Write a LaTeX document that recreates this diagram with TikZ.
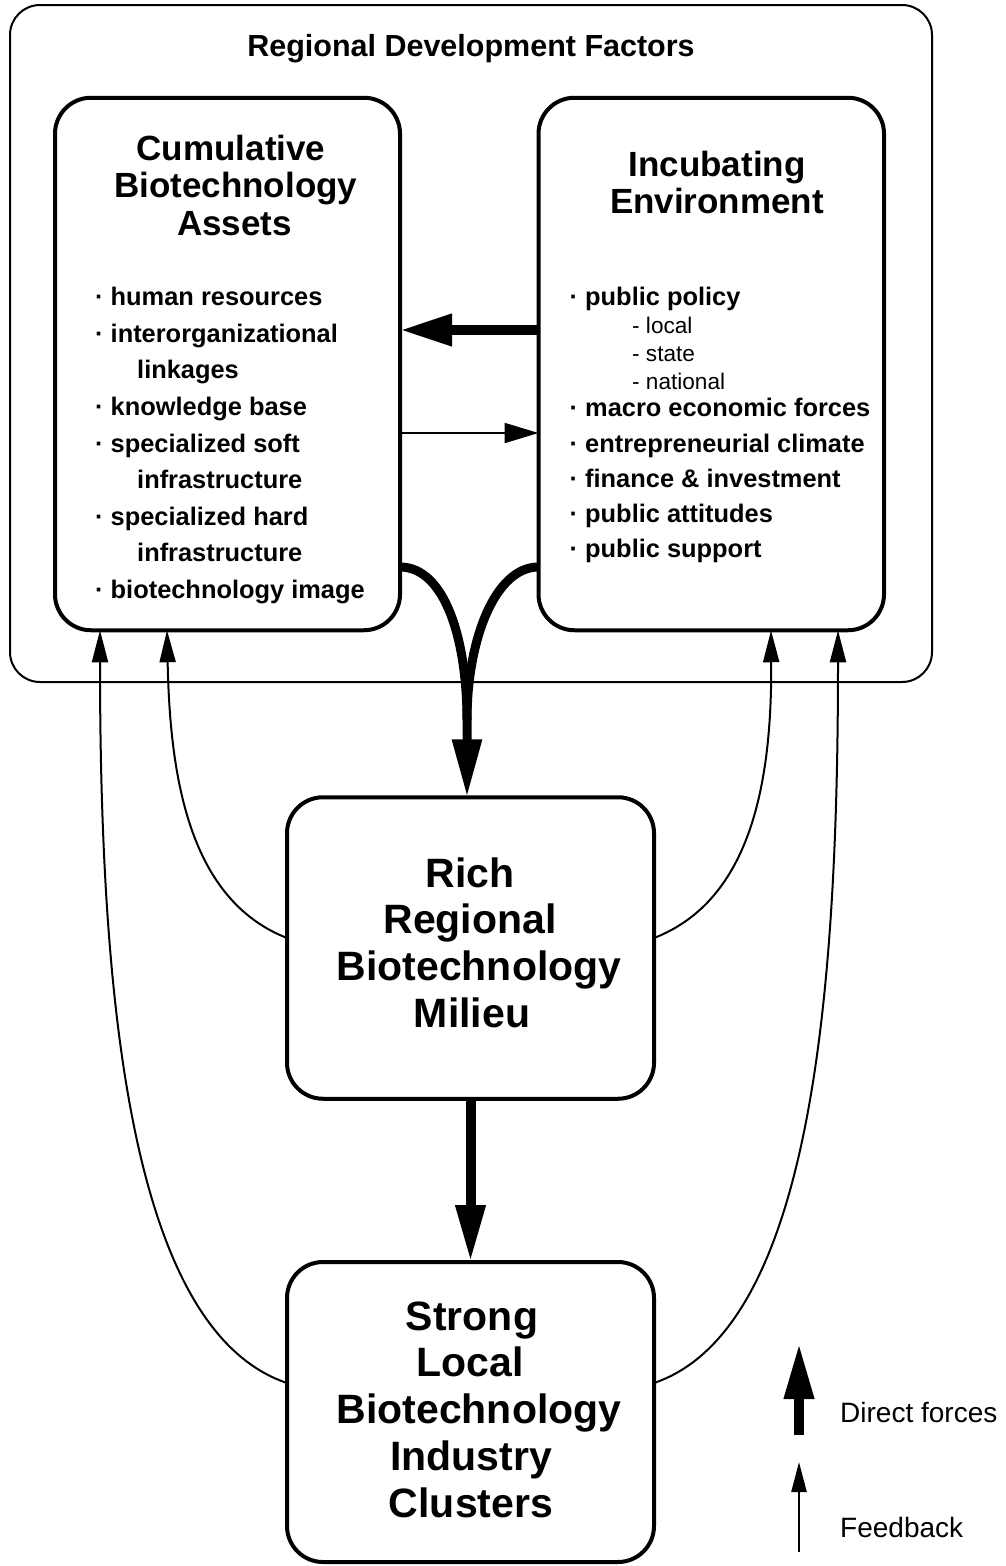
\documentclass[tikz,border=0pt]{standalone}
\usepackage{fontspec}
\setmainfont{Liberation Sans}
\usetikzlibrary{arrows.meta}
\begin{document}
\begin{tikzpicture}[x=1pt,y=-1pt,
  outerbox/.style={draw, line width=2pt, rounded corners=30pt, inner sep=0pt, outer sep=0pt},
  box/.style={draw, line width=4pt, rounded corners=36pt, inner sep=0pt, outer sep=0pt},
  maintitle/.style={font=\fontsize{30.5}{36}\selectfont\bfseries, anchor=base, inner sep=0pt},
  head/.style={font=\fontsize{35}{38}\selectfont\bfseries, anchor=base, inner sep=0pt},
  headw/.style={font=\fontsize{35}{38}\selectfont\bfseries, anchor=base west, inner sep=0pt},
  big/.style={font=\fontsize{41}{47}\selectfont\bfseries, anchor=base, inner sep=0pt},
  item/.style={font=\fontsize{25.4}{36}\selectfont\bfseries, anchor=base west, inner sep=0pt},
  subitem/.style={font=\fontsize{22.6}{28}\selectfont, anchor=base west, inner sep=0pt},
  legendtext/.style={font=\fontsize{28}{32}\selectfont, anchor=base west, inner sep=0pt},
  direct/.style={line width=10pt, -{Triangle[length=52pt,width=30pt]}},
  directcurve/.style={line width=9pt, line cap=butt},
  feedback/.style={line width=2pt, -{Triangle[length=32pt,width=16pt]}}
]
\useasboundingbox (0,0) rectangle (1005,1566);

% boxes
\node[outerbox, minimum width=922pt, minimum height=677pt] (rdf) at (471,343.5) {};
\node[box, minimum width=345pt, minimum height=532.5pt] (cba) at (227.5,364) {};
\node[box, minimum width=345.5pt, minimum height=532.5pt] (ie) at (711.25,364) {};
\node[box, minimum width=367pt, minimum height=301.5pt] (mid) at (470.5,948) {};
\node[box, minimum width=367pt, minimum height=300pt] (bot) at (470.5,1412) {};

% titles
\node[maintitle] (t0) at (471,56) {Regional Development Factors};
\node[head] (c1) at (231,160) {Cumulative};
\node[headw] (c2) at (114,197) {Biotechnology};
\node[head] (c3) at (234.5,235) {Assets};
\node[head] (i1) at (717,176) {Incubating};
\node[head] (i2) at (717,213) {Environment};

% left list
\node[item] (l1) at (95,305) {· human resources};
\node[item] (l2) at (95,342) {· interorganizational};
\node[item] (l3) at (137,378) {linkages};
\node[item] (l4) at (95,415) {· knowledge base};
\node[item] (l5) at (95,452) {· specialized soft};
\node[item] (l6) at (137,488) {infrastructure};
\node[item] (l7) at (95,525) {· specialized hard};
\node[item] (l8) at (137,561) {infrastructure};
\node[item] (l9) at (95,598) {· biotechnology image};

% right list
\node[item] (r1) at (569.5,305) {· public policy};
\node[subitem] (r2) at (632,333) {- local};
\node[subitem] (r3) at (632,361) {- state};
\node[subitem] (r4) at (632,389) {- national};
\node[item] (r5) at (569.5,416) {· macro economic forces};
\node[item] (r6) at (569.5,452) {· entrepreneurial climate};
\node[item] (r7) at (569.5,487) {· finance \& investment};
\node[item] (r8) at (569.5,522) {· public attitudes};
\node[item] (r9) at (569.5,557) {· public support};

% middle box text
\node[big] (m1) at (470,887) {Rich};
\node[big] (m2) at (470,933) {Regional};
\node[big] (m3) at (479,980) {Biotechnology};
\node[big] (m4) at (472,1027) {Milieu};

% bottom box text
\node[big] (b1) at (472,1330) {Strong};
\node[big] (b2) at (470,1376) {Local};
\node[big] (b3) at (479,1423) {Biotechnology};
\node[big] (b4) at (471,1470) {Industry};
\node[big] (b5) at (471,1517) {Clusters};

% helper coordinates
\coordinate (yA) at (0,330);
\coordinate (yB) at (0,433);
\coordinate (yC) at (0,567);
\coordinate (merge) at (467,720);
\coordinate (yF1) at (0,938);
\coordinate (yF3) at (0,1383);
\coordinate (fb1) at (167,0);
\coordinate (fb2) at (771,0);
\coordinate (fb3) at (100,0);
\coordinate (fb4) at (838,0);

% horizontal arrows between top boxes
\draw[direct] (ie.west |- yA) -- (cba.east |- yA);
\draw[line width=2pt, -{Triangle[length=34pt,width=20pt]}] (cba.east |- yB) -- (ie.west |- yB);

% merging curves to middle box
\draw[directcurve] (ie.west |- yC) .. controls (495,567) and (467,640) .. (merge);
\draw[directcurve, -{Triangle[length=58pt,width=28pt]}] (cba.east |- yC) .. controls (445,567) and (467,640) .. (merge) -- (merge |- mid.north);

% middle to bottom
\draw[line width=10pt, -{Triangle[length=57pt,width=28pt]}] (mid.south) -- (bot.north);

% feedback arrows
\draw[feedback] (mid.west |- yF1) .. controls (190,900) and (170,780) .. (fb1 |- cba.south);
\draw[feedback] (mid.east |- yF1) .. controls (752,900) and (772,780) .. (fb2 |- ie.south);
\draw[feedback] (bot.west |- yF3) .. controls (130,1330) and (100,1000) .. (fb3 |- cba.south);
\draw[feedback] (bot.east |- yF3) .. controls (810,1330) and (838,1000) .. (fb4 |- ie.south);

% legend
\coordinate (lg1b) at (799,1435);
\coordinate (lg1t) at (799,1343);
\coordinate (lg2b) at (799,1552);
\coordinate (lg2t) at (799,1462);
\draw[line width=10pt, -{Triangle[length=56pt,width=28pt]}] (lg1b) -- (lg1t);
\draw[line width=2.5pt, -{Triangle[length=30pt,width=15pt]}] (lg2b) -- (lg2t);
\node[legendtext] (lt1) at (840,1422) {Direct forces};
\node[legendtext] (lt2) at (840,1537) {Feedback};
\end{tikzpicture}
\end{document}
